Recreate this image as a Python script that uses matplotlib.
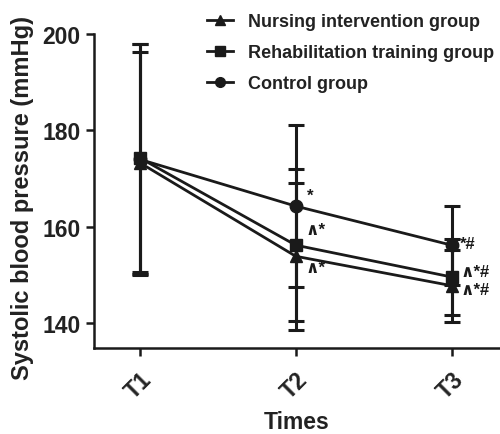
import numpy as np
import matplotlib
matplotlib.use("Agg")
import matplotlib.pyplot as plt
from matplotlib.lines import Line2D

plt.rcParams['font.family'] = ['Liberation Sans', 'DejaVu Sans']
plt.rcParams['font.weight'] = 'bold'

times = ['T1', 'T2', 'T3']
groups = ['Nursing intervention group', 'Rehabilitation training group', 'Control group']

nursing_mean = [173.3, 153.9, 147.8]
nursing_sd = [23.0, 15.2, 7.5]
rehab_mean = [174.3, 156.2, 149.6]
rehab_sd = [23.6, 15.8, 7.8]
control_mean = [174.0, 164.3, 156.2]
control_sd = [23.9, 16.8, 8.2]

nursing_sig = ['', '\u2227*', '\u2227*#']
rehab_sig = ['', '\u2227*', '\u2227*#']
control_sig = ['', '*', '*#']

markers = ['^', 's', 'o']
# label offsets in points (dx, dy) per group per time
offsets = [
    [(0, 0), (7, -8), (6, -3)],
    [(0, 0), (7, 11), (6, 4)],
    [(0, 0), (8, 8), (6, 1)],
]

fig = plt.figure(figsize=(5.0, 4.35), dpi=100)
ax = fig.add_axes([0.188, 0.198, 0.812, 0.7215])

x = np.arange(1, len(times) + 1)
means = [nursing_mean, rehab_mean, control_mean]
sds = [nursing_sd, rehab_sd, control_sd]
sigs = [nursing_sig, rehab_sig, control_sig]

handles = []
for i in range(3):
    ax.errorbar(x, means[i], yerr=sds[i], color='#1a1a1a', lw=2.0,
                elinewidth=2.2, capsize=6, capthick=2.2,
                marker=markers[i], markersize=9, zorder=3)
    handles.append(Line2D([], [], color='#1a1a1a', lw=2.0,
                          marker=markers[i], markersize=7, label=groups[i]))
    for j in range(len(times)):
        if sigs[i][j]:
            ax.annotate(sigs[i][j], (x[j], means[i][j]),
                        xytext=offsets[i][j], textcoords='offset points',
                        ha='left', va='center', fontsize=12, color='#1a1a1a')

ax.set_xlim(0.706, 3.31)
ax.set_ylim(134.9, 200)
ax.set_yticks([140, 160, 180, 200])
ax.set_xticks(x)
ax.set_xticklabels(times, rotation=45, ha='right', rotation_mode='anchor')

for s in ['top', 'right']:
    ax.spines[s].set_visible(False)
for s in ['left', 'bottom']:
    ax.spines[s].set_linewidth(1.8)
    ax.spines[s].set_color('#1a1a1a')

ax.tick_params(axis='both', width=1.8, length=6, color='#1a1a1a',
               labelsize=16.5, labelcolor='#222222')
ax.tick_params(axis='x', pad=8)

ax.set_ylabel('Systolic blood pressure (mmHg)', fontsize=17, color='#222222',
              fontweight='bold')
ax.yaxis.set_label_coords(-0.148, 0.48)
ax.set_xlabel('Times', fontsize=16.5, color='#222222', fontweight='bold', labelpad=5)

leg = ax.legend(handles=handles, loc='upper left', bbox_to_anchor=(0.414, 0.968),
                bbox_transform=fig.transFigure, frameon=False,
                fontsize=13, handlelength=1.45, handletextpad=0.8,
                labelspacing=0.78, borderaxespad=0, borderpad=0)
for t in leg.get_texts():
    t.set_color('#222222')

fig.savefig('out.png', dpi=100)
